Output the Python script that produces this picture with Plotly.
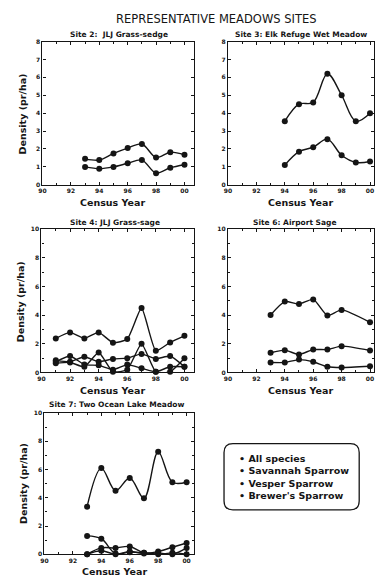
import plotly.graph_objects as go

W, H = 375, 580

# ---------------- data ----------------
tick_years = [90, 92, 94, 96, 98, 100]
tick_year_labels = ["90", "92", "94", "96", "98", "00"]

site2_years = [93, 94, 95, 96, 97, 98, 99, 100]
site2_all = [1.45, 1.38, 1.75, 2.05, 2.28, 1.52, 1.82, 1.68]
site2_sav = [1.00, 0.90, 1.00, 1.20, 1.38, 0.65, 0.95, 1.12]

site3_years = [94, 95, 96, 97, 98, 99, 100]
site3_all = [3.55, 4.50, 4.60, 6.20, 5.00, 3.55, 4.00]
site3_sav = [1.10, 1.85, 2.10, 2.55, 1.65, 1.25, 1.30]

site4_years = [91, 92, 93, 94, 95, 96, 97, 98, 99, 100]
site4_all = [2.38, 2.80, 2.38, 2.80, 2.08, 2.33, 4.50, 1.52, 2.10, 2.56]
site4_sav = [0.85, 0.75, 1.10, 0.75, 0.95, 1.00, 1.30, 0.95, 1.15, 0.40]
site4_ves = [0.65, 0.70, 0.40, 1.40, 0.05, 0.20, 2.00, 0.05, 0.05, 1.00]
site4_brw = [0.75, 1.15, 0.55, 0.50, 0.20, 0.55, 0.30, 0.05, 0.40, 0.40]

site6_years = [93, 94, 95, 96, 97, 98, 100]
site6_all = [4.02, 4.95, 4.78, 5.10, 3.98, 4.37, 3.50]
site6_sav = [1.38, 1.56, 1.26, 1.60, 1.60, 1.84, 1.54]
site6_ves = [0.70, 0.70, 0.90, 0.75, 0.40, 0.35, 0.44]

site7_years = [93, 94, 95, 96, 97, 98, 99, 100]
site7_all = [3.37, 6.10, 4.50, 5.40, 3.96, 7.25, 5.10, 5.10]
site7_sav = [1.30, 1.10, 0.05, 0.15, 0.10, 0.00, 0.10, 0.00]
site7_ves = [0.00, 0.45, 0.45, 0.55, 0.10, 0.20, 0.50, 0.80]
site7_brw = [0.00, 0.25, 0.00, 0.20, 0.05, 0.10, 0.00, 0.45]

panel_titles = ["Site 2:  JLJ Grass-sedge", "Site 3: Elk Refuge Wet Meadow",
                "Site 4: JLJ Grass-sage", "Site 6: Airport Sage",
                "Site 7: Two Ocean Lake Meadow"]
main_title = "REPRESENTATIVE MEADOWS SITES"
x_title = "Census Year"
y_title = "Density (pr/ha)"
legend_labels = ["All species", "Savannah Sparrow", "Vesper Sparrow", "Brewer's Sparrow"]

# ---------------- styling ----------------
INK = "#151515"
FONT = "DejaVu Sans"


def px(x):
    return x / W


def py(y):
    return 1 - y / H


# panel pixel boxes: left, right, top, bottom
panels = [
    (39, 193, 38, 183),
    (227, 375, 38, 183),
    (38, 193, 228, 373),
    (227, 375, 228, 373),
    (41, 193, 414, 557),
]
xranges = [[90, 100.7], [90, 100.28], [90, 100.7], [90, 100.28], [90, 100.55]]
yranges = [[0, 8], [0, 8], [0, 10], [0, 10], [0, 10]]
ydticks = [1, 1, 2, 2, 2]

series = [
    (1, site2_years, [site2_all, site2_sav], 0.9),
    (2, site3_years, [site3_all, site3_sav], 1.0),
    (3, site4_years, [site4_all, site4_sav, site4_ves, site4_brw], 0.5),
    (4, site6_years, [site6_all, site6_sav, site6_ves], 0.6),
    (5, site7_years, [site7_all, site7_sav, site7_ves, site7_brw], 1.0),
]

fig = go.Figure()
for idx, yrs, vals_list, sm in series:
    sfx = "" if idx == 1 else str(idx)
    for vals in vals_list:
        fig.add_trace(go.Scatter(
            x=yrs, y=vals, mode="lines+markers",
            xaxis="x" + sfx, yaxis="y" + sfx,
            line=dict(color=INK, width=1.4, shape="spline", smoothing=sm),
            marker=dict(color=INK, size=6),
            showlegend=False, hoverinfo="skip", cliponaxis=False,
        ))

layout = dict(
    width=W, height=H, margin=dict(l=0, r=0, t=0, b=0),
    paper_bgcolor="white", plot_bgcolor="white", showlegend=False,
)

tickfont = dict(family=FONT, size=6, color=INK, weight="bold")
for i, (l, r, t, b) in enumerate(panels):
    sfx = "" if i == 0 else str(i + 1)
    layout["xaxis" + sfx] = dict(
        domain=[px(l), px(r)], range=xranges[i], anchor="y" + sfx,
        tickvals=tick_years, ticktext=tick_year_labels,
        showline=True, linecolor=INK, linewidth=1.3, mirror="ticks",
        ticks="inside", ticklen=3, tickwidth=1, tickcolor=INK,
        minor=dict(ticks="inside", ticklen=2, dtick=1, tick0=90, tickcolor=INK),
        showgrid=False, zeroline=False, tickfont=tickfont, fixedrange=True,
    )
    yax = dict(
        domain=[py(b), py(t)], range=yranges[i], anchor="x" + sfx,
        dtick=ydticks[i], tick0=0,
        showline=True, linecolor=INK, linewidth=1.3, mirror="ticks",
        ticks="inside", ticklen=3, tickwidth=1, tickcolor=INK,
        showgrid=False, zeroline=False, tickfont=tickfont, fixedrange=True,
    )
    if ydticks[i] == 2:
        yax["minor"] = dict(ticks="inside", ticklen=2, dtick=1, tickcolor=INK)
    layout["yaxis" + sfx] = yax

fig.update_layout(**layout)


def note(text, x, y, size, bold=True, angle=0, xanchor="center", align="center"):
    return dict(text=text, x=px(x), y=py(y), xref="paper", yref="paper",
                xanchor=xanchor, yanchor="middle", align=align, textangle=angle,
                showarrow=False,
                font=dict(family=FONT, size=size, color=INK,
                          weight="bold" if bold else "normal"))


ann = [note(main_title, 215, 15, 11.5, bold=False)]
title_pos = [(117, 31), (301, 31), (113, 221), (295, 221), (114, 405)]
for (tx, ty), txt in zip(title_pos, panel_titles):
    ann.append(note(txt, tx, ty, 7.5))
xt_pos = [(110, 201), (300, 201), (110, 391), (300, 391), (112, 574)]
for tx, ty in xt_pos:
    ann.append(note(x_title, tx, ty, 9.5))
yt_pos = [(19, 111), (17, 301), (19, 485)]
for tx, ty in yt_pos:
    ann.append(note(y_title, tx, ty, 9.5, angle=-90))
ann.append(note("<br>".join("\u2022 " + s for s in legend_labels), 236, 479, 9.5,
                xanchor="left", align="left"))
fig.update_layout(annotations=ann)

# rounded legend box
bl, br, bt, bb, rad = 223, 360, 445, 512, 9
path = (f"M {px(bl + rad)} {py(bt)} L {px(br - rad)} {py(bt)} "
        f"Q {px(br)} {py(bt)} {px(br)} {py(bt + rad)} "
        f"L {px(br)} {py(bb - rad)} Q {px(br)} {py(bb)} {px(br - rad)} {py(bb)} "
        f"L {px(bl + rad)} {py(bb)} Q {px(bl)} {py(bb)} {px(bl)} {py(bb - rad)} "
        f"L {px(bl)} {py(bt + rad)} Q {px(bl)} {py(bt)} {px(bl + rad)} {py(bt)} Z")
fig.add_shape(type="path", path=path, xref="paper", yref="paper",
              line=dict(color=INK, width=1.3))

fig.write_html("out.html", config={"displayModeBar": False},
               post_script="document.body.style.margin='0';"
                           "document.body.style.overflow='hidden';")
